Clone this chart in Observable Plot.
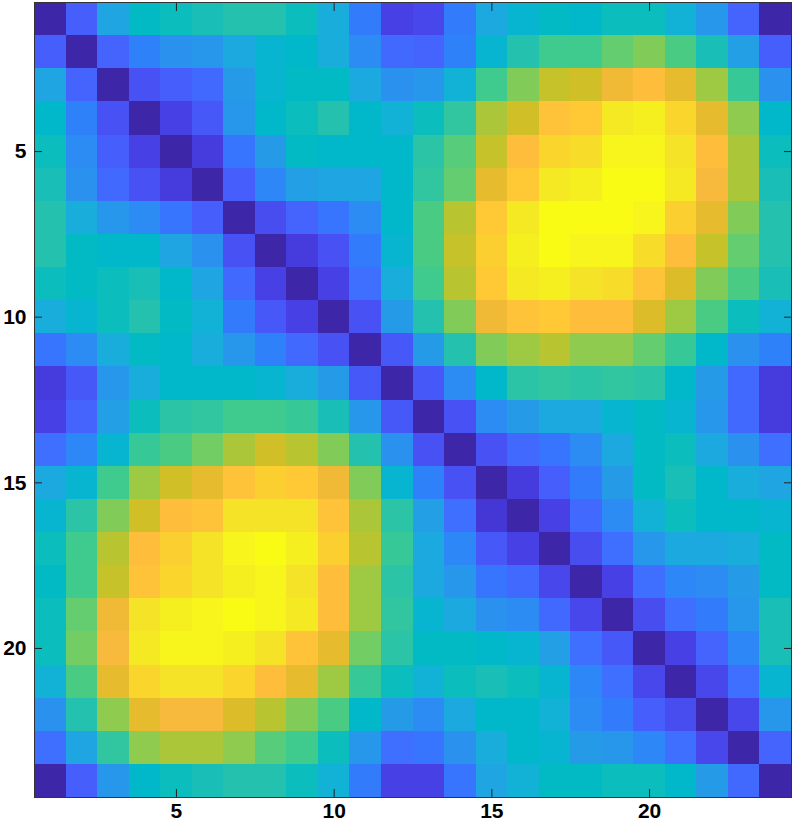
<!DOCTYPE html>
<html><head><meta charset="utf-8">
<script src="https://cdn.jsdelivr.net/npm/d3@7"></script>
<script src="https://cdn.jsdelivr.net/npm/@observablehq/plot@0.6"></script>
<style>html,body{margin:0;padding:0;background:#fff}svg{display:block}</style>
</head><body><div id="chart"></div>
<script>
const tickValues = [5, 10, 15, 20];
const labels = d3.range(1, 25);
const row01 = [0,11,24,30,31,32,33,33,31,26,16,6,7,16,25,28,30,29,31,31,27,21,12,0];
const row02 = [11,0,12,17,20,21,25,28,29,26,19,13,12,17,28,33,37,37,40,42,38,32,23,11];
const row03 = [24,12,0,9,11,13,22,28,30,30,25,20,21,27,37,42,47,48,51,53,50,44,36,20];
const row04 = [29,17,9,0,6,10,21,29,31,33,29,27,31,35,45,48,54,55,60,61,57,50,43,29];
const row05 = [31,19,11,6,0,5,15,22,30,29,29,29,34,39,47,53,57,58,62,62,59,53,45,31];
const row06 = [32,20,13,9,5,0,11,18,23,24,24,29,35,40,50,55,60,61,63,63,60,52,45,32];
const row07 = [33,26,21,19,15,11,0,8,12,15,19,29,38,46,55,60,63,63,63,62,56,50,42,33];
const row08 = [33,30,29,29,24,20,9,0,5,9,16,28,38,47,56,61,63,62,62,58,53,47,40,33];
const row09 = [31,30,31,32,29,24,13,6,0,6,14,26,37,46,55,60,61,59,58,54,49,42,38,32];
const row10 = [26,28,31,33,30,27,16,10,6,0,9,22,33,42,51,54,55,53,53,49,44,38,31,27];
const row11 = [15,19,26,30,29,26,21,17,13,9,0,10,22,33,42,44,46,43,43,40,36,29,20,17];
const row12 = [5,10,21,26,29,29,29,28,26,22,10,0,10,19,29,34,35,34,35,34,29,22,13,5];
const row13 = [6,12,23,31,34,35,37,37,36,32,21,10,0,9,19,22,25,25,28,30,28,21,13,5];
const row14 = [14,18,28,36,38,41,45,48,46,42,33,20,9,0,9,13,15,19,25,30,31,25,20,14];
const row15 = [25,28,37,44,48,50,54,56,55,51,42,28,17,9,0,5,11,16,22,30,32,29,26,24];
const row16 = [28,34,42,48,53,54,59,59,59,54,45,34,23,14,4,0,6,13,19,27,31,29,29,28];
const row17 = [31,37,46,53,56,59,62,63,61,56,46,36,25,18,10,6,0,8,14,21,25,25,26,30];
const row18 = [30,37,47,54,57,59,61,62,59,53,44,34,25,21,15,13,7,0,6,14,18,19,22,30];
const row19 = [31,40,51,59,61,62,63,62,60,53,44,35,28,25,20,19,13,7,0,8,14,16,21,32];
const row20 = [31,41,52,60,62,62,61,59,54,50,41,34,30,30,29,28,23,14,10,0,6,12,18,32];
const row21 = [27,38,50,57,59,59,57,53,50,44,36,31,27,31,32,31,28,18,14,7,0,7,14,28];
const row22 = [20,33,43,50,52,52,49,46,42,38,29,22,19,25,29,29,27,19,16,11,8,0,7,21];
const row23 = [14,24,35,43,45,45,43,39,37,31,21,14,15,20,26,29,28,22,21,18,14,7,0,12];
const row24 = [0,11,21,29,31,32,33,33,31,27,16,6,6,15,24,27,30,30,31,31,29,22,13,0];
const rows = [row01,row02,row03,row04,row05,row06,row07,row08,row09,row10,row11,row12,
              row13,row14,row15,row16,row17,row18,row19,row20,row21,row22,row23,row24];
const parula = [
[.2422,.1504,.6603],[.2504,.165,.7076],[.2578,.1818,.7511],[.2647,.1978,.7952],[.2706,.2147,.8364],[.2751,.2342,.871],
[.2783,.2559,.8991],[.2803,.2782,.9221],[.2813,.3006,.9414],[.281,.3228,.9579],[.2795,.3447,.9717],[.276,.3667,.9829],
[.2699,.3892,.9906],[.2602,.4123,.9952],[.244,.4358,.9988],[.2206,.4603,.9973],[.1963,.4847,.9892],[.1834,.5074,.9798],
[.1786,.5289,.9682],[.1764,.5499,.952],[.1687,.5703,.9359],[.154,.5902,.9218],[.146,.6091,.9079],[.138,.6276,.8973],
[.1248,.6459,.8883],[.1113,.6635,.8763],[.0952,.6798,.8598],[.0689,.6948,.8394],[.0297,.7082,.8163],[.0036,.7203,.7917],
[.0067,.7312,.766],[.0433,.7411,.7394],[.0964,.75,.712],[.1408,.7584,.6842],[.1717,.767,.6554],[.1938,.7758,.6251],
[.2161,.7843,.5923],[.247,.7918,.5567],[.2906,.7973,.5188],[.3406,.8008,.4789],[.3909,.8029,.4354],[.4456,.8024,.3909],
[.5044,.7993,.348],[.5616,.7942,.3045],[.6174,.7876,.2612],[.672,.7793,.2227],[.7242,.7698,.191],[.7738,.7598,.1646],
[.8203,.7498,.1535],[.8634,.7406,.1596],[.9035,.733,.1774],[.9393,.7288,.21],[.9728,.7298,.2394],[.9956,.7434,.2371],
[.997,.7659,.2199],[.9952,.7893,.2028],[.9892,.8136,.1885],[.9786,.8386,.1766],[.9676,.8639,.1643],[.961,.889,.1537],
[.9597,.9135,.1423],[.9628,.9373,.1265],[.9691,.9606,.1064],[.9769,.9839,.0805]
].map(([r,g,b]) => `rgb(${Math.round(r*255)},${Math.round(g*255)},${Math.round(b*255)})`);

const cells = rows.flatMap((row, i) => row.map((v, j) => ({x: labels[j], y: labels[i], v})));

const chart = Plot.plot({
  width: 793, height: 827,
  marginLeft: 34, marginRight: 2, marginTop: 2, marginBottom: 30,
  style: {background: "#fff", fontFamily: "Liberation Sans"},
  x: {type: "band", domain: labels, padding: 0, round: false},
  y: {type: "band", domain: labels, padding: 0, round: false},
  color: {type: "linear", domain: parula.map((_, i) => i), range: parula, interpolate: "rgb"},
  marks: [
    Plot.cell(cells, {x: "x", y: "y", fill: "v", shapeRendering: "crispEdges"}),
    Plot.axisX({anchor: "bottom", ticks: tickValues, tickSize: -8, tickPadding: 14, label: null, stroke: "#222", fontSize: 21, fontWeight: "bold", fill: "#000"}),
    Plot.axisX({anchor: "top", ticks: tickValues, tickSize: -8, tickFormat: null, label: null, stroke: "#222"}),
    Plot.axisY({anchor: "left", ticks: tickValues, tickSize: -8, tickPadding: 16, label: null, stroke: "#222", fontSize: 21, fontWeight: "bold", fill: "#000"}),
    Plot.axisY({anchor: "right", ticks: tickValues, tickSize: -8, tickFormat: null, label: null, stroke: "#222"}),
    Plot.frame({stroke: "#333"})
  ]
});
document.getElementById("chart").append(chart);
</script></body></html>
